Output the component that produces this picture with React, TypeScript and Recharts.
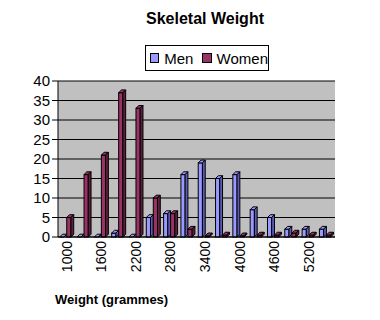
import { BarChart, Bar, XAxis, YAxis, CartesianGrid } from 'recharts';

const weights = ['1000', '1300', '1600', '1900', '2200', '2500', '2800', '3100', '3400', '3700', '4000', '4300', '4600', '4900', '5200', '5500'];
const men = [0, 0, 0, 1, 0, 5, 6, 16, 19, 15, 16, 7, 5, 2, 2, 2];
const women = [5, 16, 21, 37, 33, 10, 6, 2, 0.3, 0.5, 0.3, 0.5, 0.5, 1, 0.5, 0.5];
const yTicks = [0, 5, 10, 15, 20, 25, 30, 35, 40];

const data = weights.map((w, i) => ({ weight: w, men: men[i], women: women[i] }));

const MEN = '#9999FF';
const WOMEN = '#993366';

// fake the old excel 3d column: front face, top and a darker side
const make3D = (side: string) => (props: any) => {
  const { x, y, width, height, fill } = props;
  const d = Math.min(4, width * 0.4);
  const w = width - d;
  const h = Math.max(height, 0);
  return (
    <g stroke="#000" strokeWidth={1}>
      <rect x={x} y={y} width={w} height={h} fill={fill} />
      <polygon points={`${x},${y} ${x + d},${y - d} ${x + w + d},${y - d} ${x + w},${y}`} fill={fill} />
      <polygon points={`${x + w},${y} ${x + w + d},${y - d} ${x + w + d},${y + h - d} ${x + w},${y + h}`} fill={side} />
    </g>
  );
};

const font = 'Arial, "Liberation Sans", sans-serif';

export default function App() {
  return (
    <div style={{ position: 'absolute', left: 0, top: 0, width: 380, height: 320, background: '#fff', fontFamily: font }}>
      <div style={{ position: 'absolute', top: 10, left: 0, width: 410, textAlign: 'center', fontWeight: 'bold', fontSize: 16 }}>
        Skeletal Weight
      </div>
      {/* legend box */}
      <div style={{ position: 'absolute', left: 145, top: 45, width: 124, height: 26, border: '1px solid #000', boxSizing: 'border-box', display: 'flex', alignItems: 'center', gap: 5, paddingLeft: 4, fontSize: 15 }}>
        <span style={{ width: 8, height: 8, background: MEN, border: '1px solid #000' }} />
        <span>Men</span>
        <span style={{ width: 8, height: 8, background: WOMEN, border: '1px solid #000', marginLeft: 4 }} />
        <span>Women</span>
      </div>
      <BarChart width={380} height={320} data={data} margin={{ top: 81, right: 45, left: 10, bottom: 38 }} barCategoryGap="10%" barGap={0}>
        <CartesianGrid horizontal vertical={false} stroke="#000" fill="#C0C0C0" />
        <XAxis
          dataKey="weight"
          interval={1}
          tickLine={false}
          axisLine={{ stroke: '#000' }}
          height={45}
          angle={-90}
          textAnchor="end"
          dy={-4}
          dx={-5}
          tick={{ fill: '#000', fontSize: 14, fontFamily: font }}
        />
        <YAxis
          ticks={yTicks}
          domain={[0, 40]}
          interval={0}
          width={48}
          axisLine={{ stroke: '#000' }}
          tickLine={{ stroke: '#000' }}
          tick={{ fill: '#000', fontSize: 15, fontFamily: font }}
        />
        <Bar dataKey="men" fill={MEN} shape={make3D('#5C5CB8')} isAnimationActive={false} />
        <Bar dataKey="women" fill={WOMEN} shape={make3D('#5C1F3D')} isAnimationActive={false} />
      </BarChart>
      <div style={{ position: 'absolute', left: 55, top: 292, fontWeight: 'bold', fontSize: 13 }}>
        Weight (grammes)
      </div>
    </div>
  );
}
